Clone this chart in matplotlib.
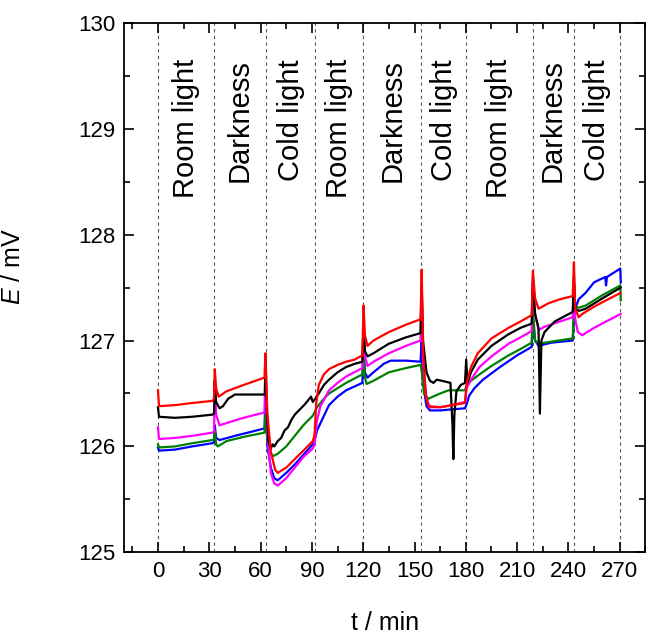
import numpy as np
import matplotlib
matplotlib.use('Agg')
from matplotlib import pyplot as plt
from matplotlib.ticker import MultipleLocator

plt.rcParams['font.family'] = ['Liberation Sans', 'DejaVu Sans']
plt.rcParams['mathtext.fontset'] = 'custom'
plt.rcParams['mathtext.it'] = 'Liberation Sans:italic'
plt.rcParams['mathtext.rm'] = 'Liberation Sans'

# light conditions and the times where they change (min)
phase_edges = [0, 33, 63, 92, 120, 154, 180, 219, 243, 270]
phase_names = ['Room light', 'Darkness', 'Cold light', 'Room light', 'Darkness',
               'Cold light', 'Room light', 'Darkness', 'Cold light']

# time (min) and potential (mV) for each electrode
t_red = [0, 0.6, 10, 20, 31.8, 32.8, 33.2, 34, 35.5, 40, 50, 62.3, 62.8, 64, 66, 68.5, 70, 75, 80, 85,
         90.5, 91.5, 92.5, 94, 97, 100, 105, 110, 115, 119.5, 120.2, 121, 122.5, 126, 135, 145, 153.5,
         154.2, 155, 156.5, 158, 165, 172, 179.5, 180.5, 183, 187, 195, 205, 212, 218.5, 219.2, 220.5,
         222.5, 228, 235, 242.5, 243.2, 244, 246, 248, 255, 262, 270.5]
E_red = [126.53, 126.38, 126.39, 126.41, 126.43, 126.45, 126.73, 126.55, 126.47, 126.52, 126.58, 126.65,
         126.88, 126.3, 125.95, 125.78, 125.75, 125.8, 125.88, 125.96, 126.05, 126.1, 126.4, 126.58,
         126.68, 126.73, 126.77, 126.8, 126.82, 126.86, 127.33, 127.05, 126.95, 127.0, 127.08, 127.15,
         127.2, 127.67, 126.9, 126.5, 126.38, 126.37, 126.39, 126.41, 126.6, 126.75, 126.88, 127.02,
         127.12, 127.18, 127.24, 127.66, 127.4, 127.3, 127.35, 127.39, 127.42, 127.74, 127.3, 127.22,
         127.25, 127.32, 127.38, 127.45]

t_black = [0, 0.6, 10, 20, 31.8, 32.8, 33.2, 34, 36, 38, 41, 45, 55, 62.5, 62.9, 63.5, 64.5, 66, 67, 68,
           70, 72, 74, 76, 78, 80, 83, 86, 89.5, 90.5, 92, 94, 97, 100, 105, 110, 115, 119.5, 120.2, 121,
           122.5, 126, 135, 145, 153.5, 154.2, 155, 157, 159, 161, 163, 166, 171, 172.2, 172.7, 173.3,
           174.5, 177, 179.5, 180.2, 181, 183, 187, 195, 205, 212, 218.5, 219.2, 220.5, 222.5, 223.3,
           224.2, 226, 232, 242.5, 243.2, 244, 246, 250, 260, 270.5]
E_black = [126.37, 126.28, 126.27, 126.28, 126.3, 126.31, 126.62, 126.42, 126.36, 126.38, 126.45, 126.49,
           126.49, 126.49, 126.85, 126.4, 126.05, 125.98, 126.02, 126.0, 126.05, 126.08, 126.15, 126.18,
           126.25, 126.3, 126.35, 126.4, 126.47, 126.42, 126.45, 126.5, 126.58, 126.63, 126.7, 126.75,
           126.78, 126.8, 127.2, 126.9, 126.85, 126.88, 126.97, 127.03, 127.07, 127.5, 127.0, 126.7,
           126.62, 126.6, 126.63, 126.62, 126.6, 126.2, 125.88, 126.3, 126.52, 126.58, 126.6, 126.82,
           126.6, 126.7, 126.82, 126.95, 127.06, 127.12, 127.16, 127.55, 127.25, 127.12, 126.31, 127.0,
           127.08, 127.18, 127.27, 127.6, 127.3, 127.28, 127.3, 127.4, 127.5]

t_magenta = [0, 0.6, 10, 20, 31.8, 32.8, 33.2, 34, 36, 40, 50, 62.3, 62.8, 64, 66, 68, 70, 75, 80, 85,
             90.5, 91.5, 93, 95, 100, 105, 110, 119.5, 120.2, 121, 122.5, 126, 135, 145, 153.5, 154.2,
             155, 157, 159, 165, 172, 179.5, 180.5, 183, 188, 195, 205, 212, 218.5, 219.2, 220.5, 222.5,
             226, 235, 242.5, 243.2, 244, 245.5, 248, 255, 262, 270.5]
E_magenta = [126.18, 126.07, 126.08, 126.1, 126.13, 126.14, 126.62, 126.3, 126.2, 126.22, 126.27, 126.32,
             126.8, 126.1, 125.75, 125.65, 125.63, 125.7, 125.8, 125.9, 125.98, 126.02, 126.25, 126.38,
             126.53, 126.6, 126.66, 126.74, 127.2, 126.85, 126.76, 126.8, 126.88, 126.95, 127.0, 127.55,
             126.8, 126.45, 126.37, 126.37, 126.39, 126.42, 126.55, 126.63, 126.75, 126.85, 126.97,
             127.03, 127.09, 127.6, 127.25, 127.1, 127.13, 127.18, 127.22, 127.55, 127.2, 127.08, 127.05,
             127.12, 127.18, 127.25]

t_blue = [0, 0.6, 10, 20, 31.8, 32.8, 33.2, 34, 36, 45, 55, 62.3, 62.8, 64, 66, 68, 70, 75, 80, 85, 90.5,
          91.5, 93, 95, 100, 105, 110, 119.5, 120.2, 121, 122.5, 126, 132, 136, 145, 153.5, 154.2, 155,
          157, 159, 165, 172, 179.5, 180.5, 182, 185, 190, 200, 210, 218.5, 219.2, 220.5, 222.5, 230,
          242.5, 243.2, 244, 246, 250, 255, 261.5, 262, 262.5, 270.3, 270.6]
E_blue = [125.99, 125.96, 125.97, 126.0, 126.03, 126.04, 126.2, 126.08, 126.06, 126.1, 126.14, 126.17,
          126.5, 126.0, 125.8, 125.7, 125.68, 125.75, 125.83, 125.92, 126.02, 126.05, 126.15, 126.22,
          126.39, 126.47, 126.53, 126.6, 126.95, 126.7, 126.65, 126.7, 126.78, 126.81, 126.81, 126.8,
          127.0, 126.6, 126.38, 126.34, 126.34, 126.35, 126.36, 126.4, 126.48, 126.55, 126.63, 126.75,
          126.86, 126.94, 127.2, 127.0, 126.95, 126.98, 127.0, 127.2, 127.3, 127.39, 127.45, 127.55,
          127.6, 127.52, 127.6, 127.68, 127.55]

t_green = [0, 0.6, 10, 20, 31.8, 32.8, 33.2, 34, 35, 40, 50, 62.3, 62.8, 64, 66, 67.5, 70, 75, 80, 85,
           90.5, 91.5, 93, 97, 100, 110, 119.5, 120.2, 121, 122, 126, 135, 145, 153.5, 154.3, 155.5, 158,
           165, 170, 179.5, 180.5, 183, 188, 195, 205, 212, 218.5, 219.2, 220.5, 222.5, 230, 242.5, 243.2,
           244, 246, 250, 260, 270.3, 270.6]
E_green = [126.02, 125.99, 126.0, 126.03, 126.06, 126.07, 126.15, 126.02, 126.0, 126.05, 126.09, 126.13,
           126.3, 126.05, 125.93, 125.91, 125.93, 126.0, 126.1, 126.2, 126.29, 126.32, 126.37, 126.45,
           126.5, 126.6, 126.68, 126.85, 126.65, 126.59, 126.62, 126.7, 126.74, 126.77, 126.7, 126.5,
           126.45, 126.5, 126.53, 126.53, 126.58, 126.62, 126.68, 126.76, 126.86, 126.92, 126.98, 127.3,
           127.0, 126.97, 126.99, 127.02, 127.3, 127.32, 127.31, 127.33, 127.43, 127.52, 127.38]

fig = plt.figure(figsize=(6.48, 6.37), dpi=100)
ax = fig.add_axes([0.191, 0.133, 0.805, 0.831])

for edge in phase_edges:
    ax.axvline(edge, color='#555555', lw=0.8, ls=(0, (3, 3)), zorder=1)

ax.plot(t_blue, E_blue, color='#0000ff', lw=1.6)
ax.plot(t_green, E_green, color='#008000', lw=1.6)
ax.plot(t_magenta, E_magenta, color='#ff00ff', lw=1.6)
ax.plot(t_black, E_black, color='black', lw=1.6)
ax.plot(t_red, E_red, color='#ff0000', lw=1.6)

for i, name in enumerate(phase_names):
    mid = (phase_edges[i] + phase_edges[i + 1]) / 2
    ax.text(mid, 129.66, name, rotation=90, ha='center', va='top', fontsize=21)

ax.set_xlim(-20, 285)
ax.set_ylim(125, 130)
ax.xaxis.set_major_locator(MultipleLocator(30))
ax.xaxis.set_minor_locator(MultipleLocator(15))
ax.yaxis.set_major_locator(MultipleLocator(1))
ax.yaxis.set_minor_locator(MultipleLocator(0.5))
ax.tick_params(which='both', direction='in', top=True, right=True, width=1.2, labelsize=16)
ax.tick_params(which='major', length=7, pad=6)
ax.tick_params(which='minor', length=4)
for s in ax.spines.values():
    s.set_linewidth(1.3)

ax.set_xlabel('t / min', fontsize=18)
ax.set_ylabel(r'$E$ / mV', fontsize=18)
ax.xaxis.set_label_coords(0.5, -0.11)
ax.yaxis.set_label_coords(-0.19, 0.54)

plt.savefig('out.png', dpi=100)
